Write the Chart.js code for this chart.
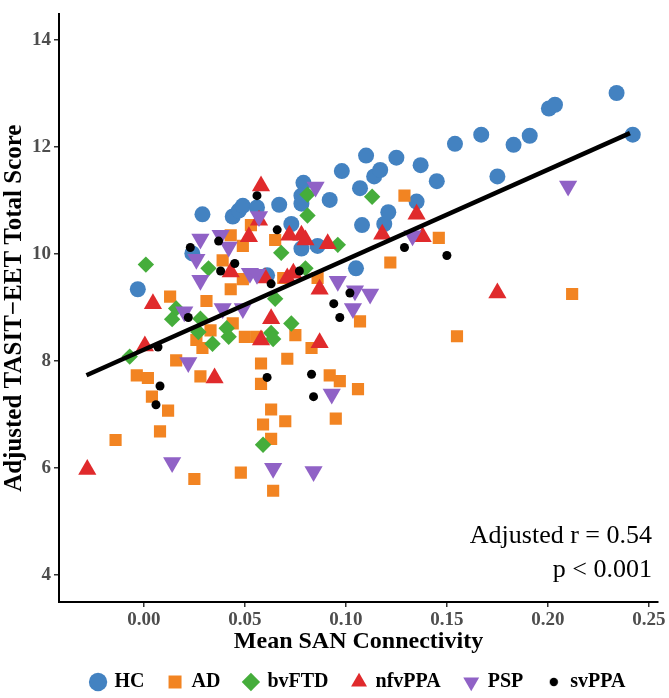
<!DOCTYPE html>
<html>
<head>
<meta charset="utf-8">
<title>TASIT-EET vs SAN connectivity</title>
<script src="https://cdn.jsdelivr.net/npm/chart.js@4.4.1/dist/chart.umd.min.js"></script>
<style>
  body { margin: 0; background: #fff; }
  #wrap { width: 669px; height: 698px; }
</style>
</head>
<body>
<div id="wrap"><canvas id="scatterChart" width="669" height="698"></canvas></div>
<script>
// group names, in legend order
var groups = ["HC", "AD", "bvFTD", "nfvPPA", "PSP", "svPPA"];

// [mean SAN connectivity, adjusted TASIT-EET score]
var hc = [[-0.003,9.34],[0.024,10.01],[0.029,10.74],[0.044,10.70],[0.047,10.81],[0.049,10.90],
  [0.056,10.87],[0.067,10.92],[0.073,10.56],[0.078,10.10],[0.079,11.33],[0.078,11.09],[0.078,10.94],
  [0.086,10.15],[0.092,11.01],[0.098,11.55],[0.107,11.23],[0.108,10.54],[0.105,9.73],[0.110,11.84],
  [0.114,11.45],[0.117,11.57],[0.119,10.56],[0.121,10.78],[0.125,11.80],[0.135,10.98],[0.137,11.66],
  [0.145,11.36],[0.154,12.06],[0.167,12.23],[0.175,11.45],[0.183,12.04],[0.191,12.21],[0.2005,12.72],
  [0.2035,12.79],[0.234,13.01],[0.242,12.23],[0.061,9.60]];
var ad = [[0.013,9.20],[0.031,9.12],[0.043,10.35],[0.053,10.54],[0.049,10.15],[0.039,9.88],[0.043,9.34],
  [0.049,9.53],[0.065,10.26],[0.069,9.55],[0.086,9.55],[0.107,8.74],[0.129,11.09],[0.146,10.30],
  [0.122,9.84],[0.212,9.25],[0.155,8.46],[0.106,7.47],[0.033,8.57],[0.050,8.45],[0.056,8.45],
  [0.075,8.48],[0.083,8.24],[0.026,8.39],[0.029,8.24],[0.016,8.01],[-0.0035,7.73],[0.002,7.68],
  [0.028,7.71],[0.058,7.95],[0.071,8.04],[0.058,7.57],[0.092,7.73],[0.097,7.62],[0.004,7.33],
  [0.012,7.07],[0.063,7.09],[0.059,6.81],[0.070,6.87],[0.095,6.92],[0.008,6.68],[0.063,6.54],
  [-0.014,6.52],[0.048,5.91],[0.025,5.79],[0.064,5.57],[0.044,8.70]];
var bvftd = [[0.001,9.80],[0.081,11.11],[0.081,10.72],[0.068,10.02],[0.096,10.17],[0.113,11.07],
  [0.032,9.73],[0.080,9.73],[0.065,9.16],[0.014,8.78],[0.016,8.98],[0.028,8.79],[0.073,8.70],
  [0.041,8.61],[0.063,8.52],[-0.007,8.08],[0.027,8.54],[0.034,8.32],[0.042,8.45],[0.064,8.41],
  [0.059,6.43]];
var nfvppa = [[0.058,11.27],[0.057,10.63],[0.052,10.32],[0.072,10.35],[0.078,10.35],[0.080,10.26],
  [0.091,10.19],[0.043,9.66],[0.060,9.55],[0.071,9.55],[0.074,9.64],[0.087,9.34],[0.0045,9.07],
  [0.063,8.79],[0.118,10.37],[0.135,10.74],[0.138,10.32],[0.175,9.27],[0.0005,8.28],[0.058,8.39],
  [0.087,8.34],[0.035,7.68],[-0.028,5.97]];
var psp = [[0.028,10.28],[0.038,10.35],[0.042,10.13],[0.026,9.90],[0.028,9.51],[0.0525,9.64],
  [0.056,9.62],[0.057,10.70],[0.085,11.25],[0.020,8.92],[0.039,8.98],[0.049,8.98],[0.096,9.49],
  [0.1045,9.31],[0.112,9.25],[0.1035,8.98],[0.133,10.34],[0.210,11.27],[0.022,7.97],[0.093,7.38],
  [0.014,6.10],[0.064,5.99],[0.084,5.93]];
var svppa = [[0.056,11.09],[0.066,10.45],[0.037,10.24],[0.023,10.12],[0.045,9.82],[0.038,9.68],
  [0.077,9.68],[0.063,9.44],[0.094,9.07],[0.097,8.81],[0.022,8.81],[0.102,9.27],[0.129,10.12],
  [0.150,9.97],[0.007,8.26],[0.008,7.53],[0.006,7.18],[0.061,7.69],[0.083,7.75],[0.084,7.33]];

// fitted line end points
var fitLine = [[-0.0284,7.73],[0.2406,12.26]];

var xTicks = [0.00, 0.05, 0.10, 0.15, 0.20, 0.25];
var yTicks = [4, 6, 8, 10, 12, 14];
var statText = ["Adjusted r = 0.54", "p < 0.001"];

var serif = "'Liberation Serif', 'Times New Roman', serif";

function toPoints(arr) {
	return arr.map(function (p) { return { x: p[0], y: p[1] }; });
}

function makeSet(label, arr, color, style, radius, rotation, order) {
	return {
		label: label,
		data: toPoints(arr),
		backgroundColor: color,
		borderColor: color,
		borderWidth: 0,
		pointStyle: style,
		pointRadius: radius,
		pointHoverRadius: radius,
		pointRotation: rotation,
		showLine: false,
		order: order
	};
}

// small dot for the svPPA legend key (the default key is too big)
function smallDot() {
	var c = document.createElement('canvas');
	c.width = 10; c.height = 10;
	var g = c.getContext('2d');
	g.fillStyle = '#000';
	g.beginPath();
	g.arc(5, 5, 4.2, 0, Math.PI * 2);
	g.fill();
	return c;
}
var svDot = smallDot();

var statPlugin = {
	id: 'statText',
	afterDraw: function (chart) {
		var ctx = chart.ctx;
		var area = chart.chartArea;
		ctx.save();
		ctx.font = "26px " + serif;
		ctx.fillStyle = "#000";
		ctx.textAlign = "right";
		ctx.textBaseline = "middle";
		ctx.fillText(statText[0], area.right - 6, area.bottom - 66);
		ctx.fillText(statText[1], area.right - 6, area.bottom - 32);
		ctx.restore();
	}
};

var ctxS = document.getElementById("scatterChart").getContext('2d');
var myChart = new Chart(ctxS, {
	type: 'scatter',
	data: {
		datasets: [
			makeSet(groups[0], hc, '#4382c1', 'circle', 8, 0, 6),
			makeSet(groups[1], ad, '#f28422', 'rect', 8.6, 0, 5),
			makeSet(groups[2], bvftd, '#45ad3b', 'rectRot', 8.2, 0, 4),
			makeSet(groups[3], nfvppa, '#e02a2c', 'triangle', 10.5, 0, 3),
			makeSet(groups[4], psp, '#9062c6', 'triangle', 10.5, 180, 2),
			makeSet(groups[5], svppa, '#000000', 'circle', 4.5, 0, 1),
			{
				type: 'line',
				label: 'fit',
				data: toPoints(fitLine),
				borderColor: '#000',
				borderWidth: 4.5,
				pointRadius: 0,
				fill: false,
				order: 0
			}
		]
	},
	options: {
		responsive: false,
		animation: false,
		devicePixelRatio: 1,
		layout: { padding: { left: 0, top: 3, right: 11, bottom: 0 } },
		plugins: {
			tooltip: { enabled: false },
			legend: {
				position: 'bottom',
				fullSize: false,
				maxHeight: 50,
				labels: {
					usePointStyle: true,
					boxWidth: 13,
					boxHeight: 13,
					padding: 24,
					color: '#000',
					font: { family: serif, weight: 'bold', size: 20 },
					generateLabels: function (chart) {
						var items = Chart.defaults.plugins.legend.labels.generateLabels(chart);
						items.forEach(function (it) {
							if (it.text === 'svPPA') { it.pointStyle = svDot; }
						});
						return items;
					},
					filter: function (item) { return item.datasetIndex < 6; },
					sort: function (a, b) { return a.datasetIndex - b.datasetIndex; }
				}
			}
		},
		scales: {
			x: {
				type: 'linear',
				min: -0.042,
				max: 0.2545,
				afterBuildTicks: function (scale) {
					scale.ticks = xTicks.map(function (v) { return { value: v }; });
				},
				afterFit: function (scale) { scale.height = 46; },
				ticks: {
					color: '#4d4d4d',
					padding: 2,
					font: { family: serif, weight: 'bold', size: 19 },
					callback: function (v) { return Number(v).toFixed(2); }
				},
				grid: { drawOnChartArea: false, tickLength: 5, tickColor: '#333', lineWidth: 1.5 },
				border: { color: '#000', width: 2 },
				title: {
					display: true,
					text: 'Mean SAN Connectivity',
					color: '#000',
					padding: { top: 0, bottom: -8 },
					font: { family: serif, weight: 'bold', size: 24 }
				}
			},
			y: {
				type: 'linear',
				min: 3.49,
				max: 14.48,
				afterBuildTicks: function (scale) {
					scale.ticks = yTicks.map(function (v) { return { value: v }; });
				},
				afterFit: function (scale) { scale.width = 59; },
				ticks: {
					color: '#4d4d4d',
					padding: 3,
					font: { family: serif, weight: 'bold', size: 19 }
				},
				grid: { drawOnChartArea: false, tickLength: 5, tickColor: '#333', lineWidth: 1.5 },
				border: { color: '#000', width: 2 },
				title: {
					display: true,
					text: 'Adjusted TASIT\u2212EET Total Score',
					color: '#000',
					padding: 0,
					font: { family: serif, weight: 'bold', size: 25 }
				}
			}
		}
	},
	plugins: [statPlugin]
});
</script>
</body>
</html>
